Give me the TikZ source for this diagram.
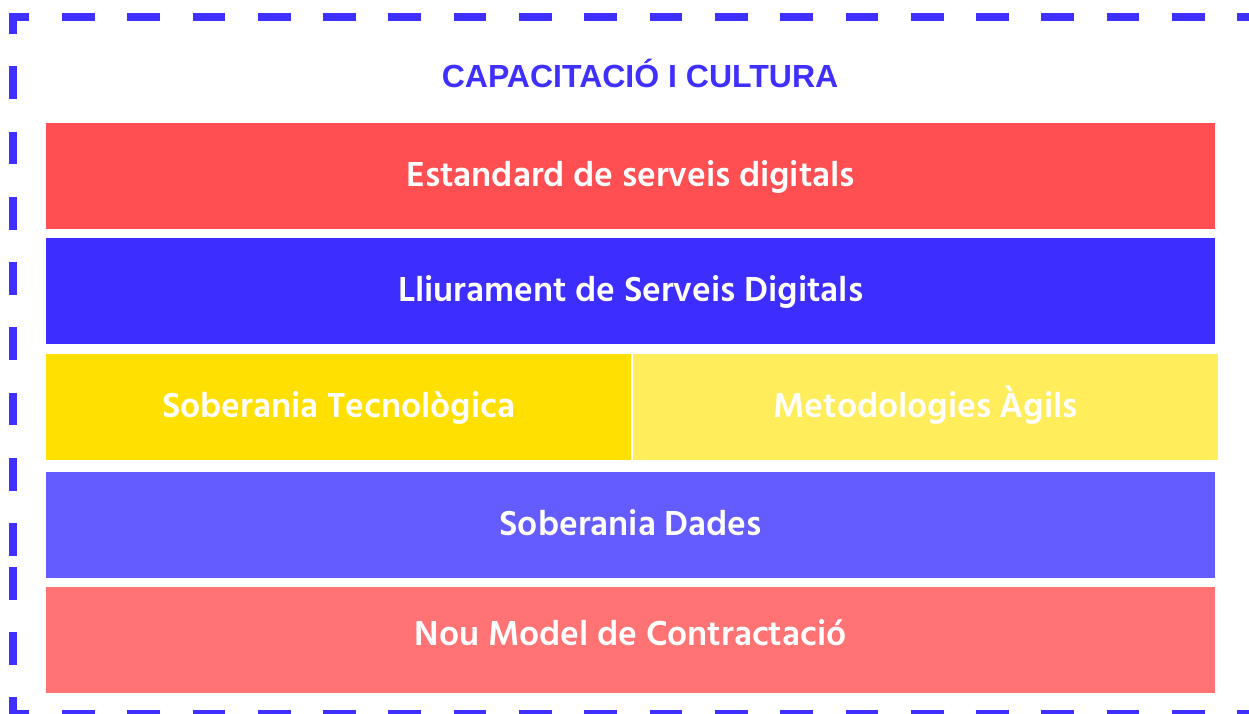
\documentclass[tikz,border=0pt]{standalone}
\usepackage{fontspec}
\newfontfamily\boxfont{Hind Siliguri}
\newfontfamily\titlefont{Liberation Sans}
\definecolor{cborder}{HTML}{3F30FF}
\definecolor{cred}{HTML}{FF4F52}
\definecolor{cblue}{HTML}{3D2EFF}
\definecolor{cyellow}{HTML}{FFE000}
\definecolor{clyellow}{HTML}{FFED5C}
\definecolor{cpurple}{HTML}{645CFF}
\definecolor{cpink}{HTML}{FF7375}
\tikzset{
  band/.style={fill=#1, draw=none, inner sep=0pt, anchor=north west,
    minimum height=106pt, text=white,
    font=\boxfont\bfseries\fontsize{35.6}{40}\selectfont,
    text height=22pt, text depth=1pt},
  bord/.style={draw=cborder, line width=8pt,
    dash pattern=on 32.7pt off 32.6pt, dash phase=16.1pt},
  bordcorner/.style={draw=cborder, line width=8pt, miter limit=10, line join=miter},
  titletext/.style={text=cborder, inner sep=0pt, anchor=base,
    font=\titlefont\bfseries\fontsize{32}{36}\selectfont}
}
\begin{document}
\begin{tikzpicture}[x=1pt,y=-1pt]
\useasboundingbox (0,0) rectangle (1249,713);
\clip (0,0) rectangle (1249,713);
\fill[white] (0,0) rectangle (1249,713);
% dashed frame
\coordinate (tl) at (12.7,17);
\coordinate (bl) at (12.7,714);
\coordinate (tr) at (1300,17);
\coordinate (br) at (1300,714);
\coordinate (ml) at (12.7,560);
\draw[bord] (tl) -- (tr);
\draw[bord] (bl) -- (br);
\draw[bord] (tl) -- (ml);
\draw[bord] (bl) -- (ml);
\draw[bordcorner] (12.7,33.6) -- (tl) -- (29.3,17);
\draw[bordcorner] (12.7,697.4) -- (bl) -- (29.3,714);
% title
\node[titletext] (title) at (640,87.3) {CAPACITACIÓ I CULTURA};
% bands
\node[band=cred, minimum width=1169pt] (r1) at (46,123) {Estandard de serveis digitals};
\node[band=cblue, minimum width=1169pt] (r2) at (46,238) {Lliurament de Serveis Digitals};
\node[band=cyellow, minimum width=585pt] (r3a) at (46,354) {Soberania Tecnològica};
\node[band=clyellow, minimum width=585pt] (r3b) at (633,354) {Metodologies Àgils};
\node[band=cpurple, minimum width=1169pt] (r4) at (46,472) {Soberania Dades};
\node[band=cpink, minimum width=1169pt] (r5) at (46,587) {};
\node[text=white, inner sep=0pt, font=\boxfont\bfseries\fontsize{35.6}{40}\selectfont,
  text height=22pt, text depth=1pt] (r5t) at ([yshift=5pt]r5.center) {Nou Model de Contractació};
\end{tikzpicture}
\end{document}
